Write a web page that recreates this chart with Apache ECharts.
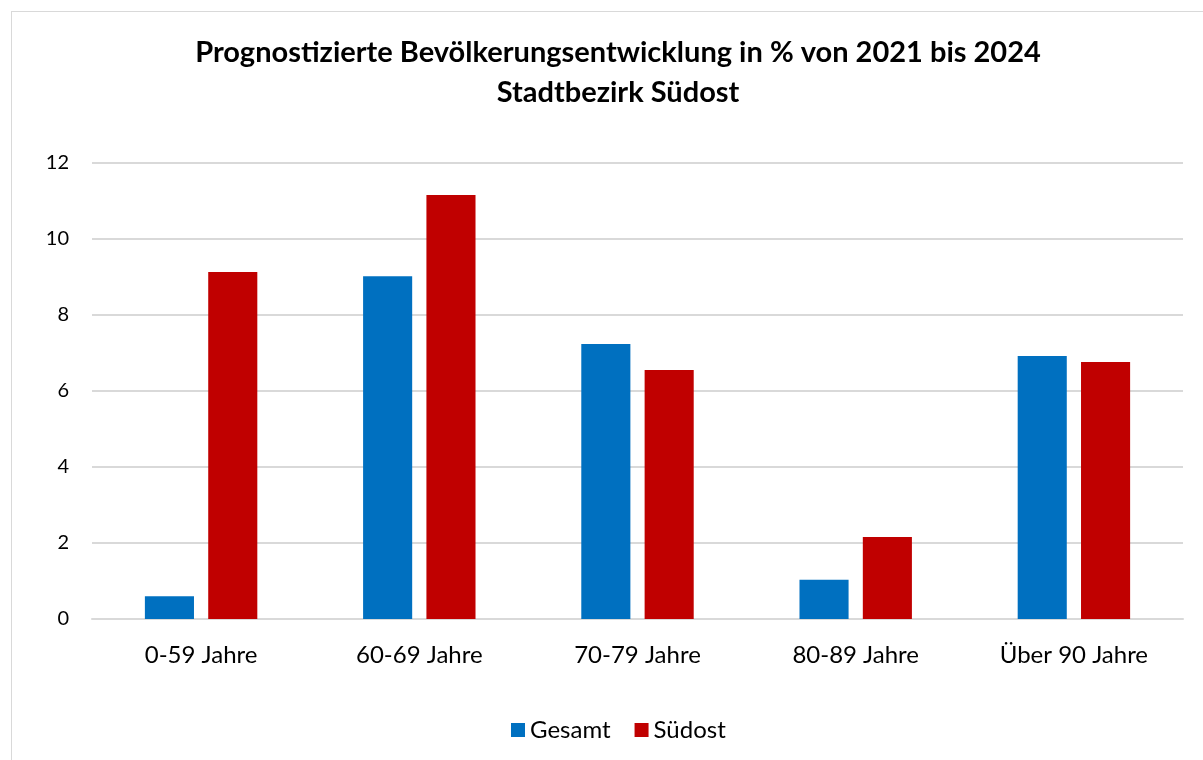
<!DOCTYPE html>
<html>
<head>
<meta charset="utf-8">
<script src="https://cdn.jsdelivr.net/npm/echarts@6/dist/echarts.min.js"></script>
<style>
  html, body { margin: 0; padding: 0; background: #ffffff; }
  #chart { width: 1203px; height: 760px; }
  #frame { position: absolute; left: 11px; top: 11px; width: 1200px; height: 760px; border: 1px solid #d9d9d9; box-sizing: border-box; pointer-events: none; }
</style>
</head>
<body>
<div id="chart"></div>
<div id="frame"></div>
<script>
  // Altersgruppen
  const categories = ['0-59 Jahre', '60-69 Jahre', '70-79 Jahre', '80-89 Jahre', 'Über 90 Jahre']
  // Werte in %
  const gesamt = [0.6, 9.02, 7.24, 1.03, 6.92]
  const suedost = [9.13, 11.16, 6.55, 2.16, 6.76]

  let myChart = echarts.init(document.getElementById('chart'))
  myChart.setOption({
    textStyle: { fontFamily: 'Lato' },
    title: {
      text: 'Prognostizierte Bevölkerungsentwicklung in % von 2021 bis 2024\nStadtbezirk Südost',
      left: 613,
      textAlign: 'center',
      top: 28,
      textStyle: {
        fontSize: 29,
        fontWeight: 'bold',
        color: '#000000',
        lineHeight: 40,
        fontFamily: 'Lato'
      }
    },
    legend: {
      bottom: 13,
      left: 506,
      itemWidth: 14,
      itemHeight: 14,
      itemGap: 24,
      icon: 'rect',
      textStyle: { fontSize: 24, color: '#000000' },
      data: ['Gesamt', 'Südost']
    },
    grid: {
      left: 92,
      right: 20,
      top: 163,
      bottom: 141
    },
    xAxis: {
      type: 'category',
      data: categories,
      axisLine: { lineStyle: { color: '#d9d9d9', width: 2 } },
      axisTick: { show: false },
      axisLabel: { fontSize: 24, color: '#000000', margin: 24 }
    },
    yAxis: {
      type: 'value',
      min: 0,
      max: 12,
      interval: 2,
      axisLine: { show: false },
      axisTick: { show: false },
      axisLabel: { fontSize: 20, color: '#000000', margin: 23 },
      splitLine: { lineStyle: { color: '#d9d9d9', width: 2 } }
    },
    series: [
      {
        name: 'Gesamt',
        type: 'bar',
        data: gesamt,
        barWidth: '22.5%',
        barGap: '29%',
        itemStyle: { color: '#0070c0' }
      },
      {
        name: 'Südost',
        type: 'bar',
        data: suedost,
        barWidth: '22.5%',
        itemStyle: { color: '#c00000' }
      }
    ]
  })
</script>
</body>
</html>
